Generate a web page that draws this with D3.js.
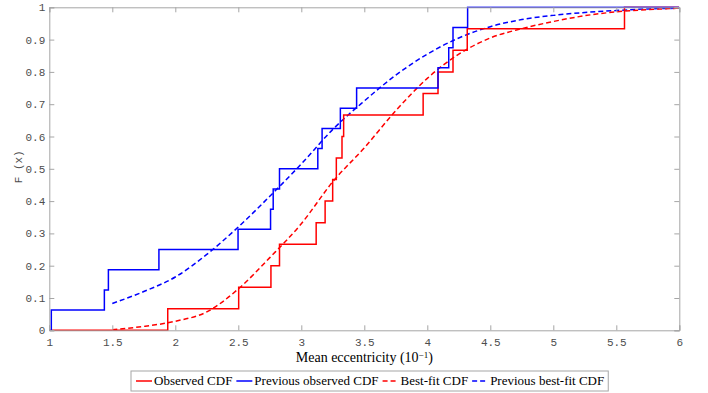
<!DOCTYPE html>
<html><head><meta charset="utf-8">
<script src="https://cdn.jsdelivr.net/npm/d3@7"></script>
<style>body{margin:0;background:#fff}svg{display:block}</style>
</head><body><svg id="c" width="708" height="393"></svg>
<script>
// Observed sample values (mean eccentricity, 10^-1)
const observed = [1.94, 2.503, 2.759, 2.827, 3.118, 3.189, 3.249, 3.278, 3.323, 3.336, 3.967, 4.085, 4.204, 4.317, 5.565];
const previousObserved = [1.016, 1.437, 1.469, 1.87, 2.498, 2.756, 2.777, 2.827, 3.131, 3.165, 3.31, 3.439, 4.085, 4.17, 4.204, 4.32];
// Best-fit CDF readings
const fitX = [1.5, 1.75, 2.0, 2.25, 2.5, 2.75, 3.0, 3.25, 3.5, 3.75, 4.0, 4.25, 4.5, 4.75, 5.0, 5.25, 5.5, 5.75, 6.0];
const bestFit = [0.002, 0.012, 0.028, 0.057, 0.128, 0.225, 0.33, 0.46, 0.565, 0.68, 0.78, 0.855, 0.905, 0.934, 0.956, 0.974, 0.986, 0.993, 0.997];
const prevBestFit = [0.083, 0.12, 0.165, 0.235, 0.32, 0.415, 0.515, 0.622, 0.71, 0.79, 0.855, 0.905, 0.94, 0.962, 0.975, 0.984, 0.99, 0.995, 0.997];
const xTicks = [1, 1.5, 2, 2.5, 3, 3.5, 4, 4.5, 5, 5.5, 6];
const yTicks = [0, 0.1, 0.2, 0.3, 0.4, 0.5, 0.6, 0.7, 0.8, 0.9, 1];
const legendLabels = ["Observed CDF", "Previous observed CDF", "Best-fit CDF", "Previous best-fit CDF"];

const svg = d3.select("#c");
const L = 49.3, R = 679.3, T = 7.3, B = 330.3;
const x = d3.scaleLinear().domain([1, 6]).range([L, R]);
const y = d3.scaleLinear().domain([0, 1]).range([B, T]);
const axisColor = "#a6a6a6", tickTextColor = "#4d4d4d";
const mono = "'Liberation Mono','DejaVu Sans Mono',monospace";
const serif = "'Liberation Serif','DejaVu Serif',serif";

svg.append("clipPath").attr("id", "clip").append("rect")
  .attr("x", L).attr("y", T - 1).attr("width", R - L).attr("height", B - T + 2);

function stepPts(vals) {
  const s = vals.slice().sort((a, b) => a - b), n = s.length;
  const pts = [[1, 0]];
  s.forEach((v, i) => { pts.push([v, i / n]); pts.push([v, (i + 1) / n]); });
  pts.push([6, 1]);
  return pts;
}
const line = d3.line().x(d => x(d[0])).y(d => y(d[1]));
const smooth = d3.line().x(d => x(d[0])).y(d => y(d[1])).curve(d3.curveMonotoneX);

const g = svg.append("g").attr("clip-path", "url(#clip)");
g.append("path").attr("d", smooth(fitX.map((v, i) => [v, prevBestFit[i]])))
  .attr("fill", "none").attr("stroke", "#0000ff").attr("stroke-width", 1.5).attr("stroke-dasharray", "5,3");
g.append("path").attr("d", smooth(fitX.map((v, i) => [v, bestFit[i]])))
  .attr("fill", "none").attr("stroke", "#ff0000").attr("stroke-width", 1.5).attr("stroke-dasharray", "5,3");
g.append("path").attr("d", line(stepPts(observed)))
  .attr("fill", "none").attr("stroke", "#ff0000").attr("stroke-width", 1.5);
g.append("path").attr("d", line(stepPts(previousObserved)))
  .attr("fill", "none").attr("stroke", "#0000ff").attr("stroke-width", 1.5);

// Axes (box with inward ticks)
const xb = svg.append("g").attr("transform", `translate(0,${B})`)
  .call(d3.axisBottom(x).tickValues(xTicks).tickSize(-5).tickPadding(0).tickFormat(d => d));
const xt = svg.append("g").attr("transform", `translate(0,${T})`)
  .call(d3.axisTop(x).tickValues(xTicks).tickSize(-5).tickFormat(""));
const yl = svg.append("g").attr("transform", `translate(${L},0)`)
  .call(d3.axisLeft(y).tickValues(yTicks).tickSize(-5).tickPadding(4).tickFormat(d => d));
const yr = svg.append("g").attr("transform", `translate(${R},0)`)
  .call(d3.axisRight(y).tickValues(yTicks).tickSize(-5).tickFormat(""));
[xb, xt, yl, yr].forEach(a => {
  a.select(".domain").attr("stroke", axisColor).attr("stroke-width", 1);
  a.selectAll(".tick line").attr("stroke", axisColor);
  a.selectAll(".tick text").attr("fill", tickTextColor).attr("font-family", mono).attr("font-size", 11);
});
xb.selectAll(".tick text").attr("y", 16).attr("dy", 0);

// Axis labels
svg.append("text").attr("transform", `translate(22,${(T + B) / 2 - 2}) rotate(-90)`)
  .attr("text-anchor", "middle").attr("font-family", mono).attr("font-size", 11).attr("fill", tickTextColor)
  .text("F (x)");
const xl = svg.append("text").attr("x", (L + R) / 2).attr("y", 362).attr("text-anchor", "middle")
  .attr("font-family", serif).attr("font-size", 14).attr("fill", "#000");
xl.append("tspan").text("Mean eccentricity (10");
xl.append("tspan").attr("dy", -4).attr("font-size", 9).text("\u22121");
xl.append("tspan").attr("dy", 4).text(")");

// Legend
const lg = svg.append("g");
const styles = [
  {c: "#ff0000", d: null}, {c: "#0000ff", d: null},
  {c: "#ff0000", d: "5,3"}, {c: "#0000ff", d: "5,3"}
];
let cx = 136;
const ly = 381;
legendLabels.forEach((lab, i) => {
  const it = lg.append("g");
  it.append("line").attr("x1", cx).attr("x2", cx + 16).attr("y1", ly).attr("y2", ly)
    .attr("stroke", styles[i].c).attr("stroke-width", 1.5).attr("stroke-dasharray", styles[i].d);
  const t = it.append("text").attr("x", cx + 18).attr("y", ly + 4).attr("font-family", serif)
    .attr("font-size", 13).attr("fill", "#000").text(lab);
  cx += 18 + t.node().getComputedTextLength() + 4;
});
lg.insert("rect", ":first-child").attr("x", 131).attr("y", 371).attr("width", cx - 131).attr("height", 20)
  .attr("fill", "#fff").attr("stroke", axisColor).attr("stroke-width", 1);
</script></body></html>
